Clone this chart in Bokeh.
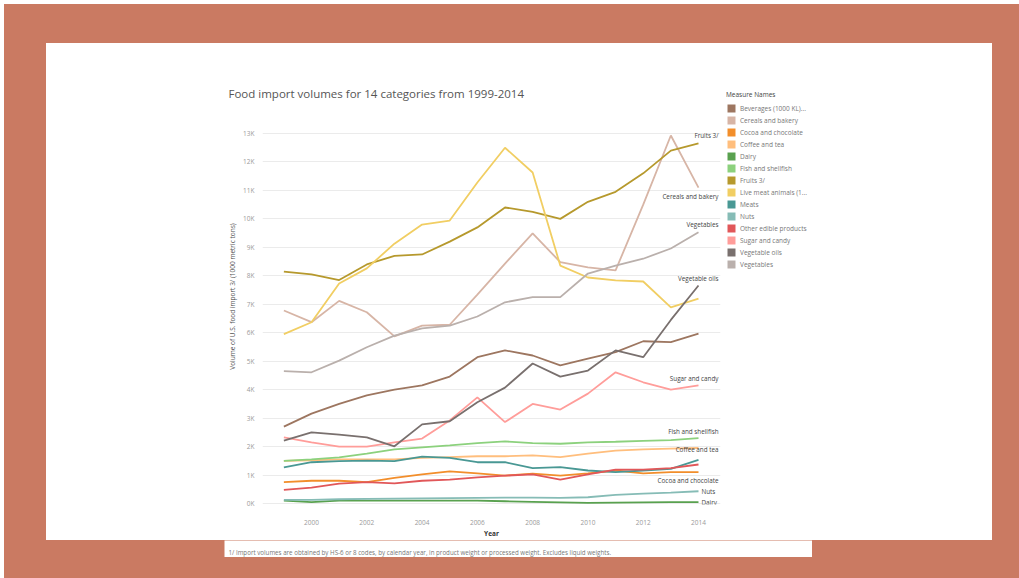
from bokeh.plotting import figure
from bokeh.layouts import column, row
from bokeh.models import (ColumnDataSource, Label, LabelSet, Legend, LegendItem,
                          FixedTicker, Range1d)
from bokeh.core.properties import value
from bokeh.embed import file_html
from bokeh.resources import INLINE

# ---------------- data (1000 metric tons) ----------------
years = list(range(1999, 2015))

beverages  = [2700, 3160, 3500, 3800, 4000, 4150, 4460, 5140, 5380, 5200, 4850, 5090, 5320, 5700, 5670, 5970]
cereals    = [6780, 6370, 7120, 6720, 5870, 6250, 6280, 7340, 8430, 9490, 8480, 8300, 8190, 10500, 12930, 11100]
cocoa      = [750, 800, 800, 750, 900, 1020, 1130, 1060, 980, 1050, 980, 1060, 1160, 1060, 1100, 1100]
coffee     = [1500, 1520, 1550, 1550, 1550, 1600, 1630, 1660, 1660, 1690, 1630, 1750, 1860, 1900, 1930, 1950]
dairy      = [100, 50, 100, 100, 100, 100, 100, 100, 80, 60, 40, 20, 30, 40, 50, 50]
fish       = [1500, 1550, 1620, 1750, 1900, 1970, 2040, 2120, 2180, 2120, 2100, 2150, 2170, 2200, 2230, 2300]
fruits     = [8150, 8050, 7850, 8400, 8700, 8750, 9200, 9700, 10400, 10250, 10000, 10600, 10950, 11600, 12400, 12650]
live_meat  = [5950, 6370, 7730, 8260, 9130, 9800, 9940, 11280, 12500, 11630, 8360, 7940, 7840, 7800, 6890, 7200]
meats      = [1270, 1450, 1490, 1510, 1490, 1650, 1600, 1450, 1450, 1240, 1280, 1160, 1100, 1160, 1220, 1530]
nuts       = [130, 130, 150, 160, 170, 180, 190, 200, 210, 210, 200, 220, 300, 350, 380, 430]
other      = [480, 560, 700, 750, 710, 800, 840, 920, 980, 1020, 840, 1020, 1190, 1190, 1240, 1370]
sugar      = [2320, 2150, 2000, 2000, 2150, 2280, 2920, 3730, 2860, 3500, 3300, 3860, 4610, 4260, 4000, 4150]
veg_oils   = [2210, 2500, 2420, 2320, 2010, 2780, 2890, 3560, 4070, 4920, 4460, 4670, 5380, 5140, 6450, 7660]
vegetables = [4650, 4610, 5020, 5490, 5900, 6150, 6250, 6570, 7070, 7250, 7250, 8080, 8360, 8600, 8960, 9530]

series_names = ["Beverages (1000 KL)", "Cereals and bakery", "Cocoa and chocolate", "Coffee and tea",
                "Dairy", "Fish and shellfish", "Fruits 3/", "Live meat animals (1000 head)", "Meats",
                "Nuts", "Other edible products", "Sugar and candy", "Vegetable oils", "Vegetables"]
legend_labels = ["Beverages (1000 KL)...", "Cereals and bakery", "Cocoa and chocolate", "Coffee and tea",
                 "Dairy", "Fish and shellfish", "Fruits 3/", "Live meat animals (1...", "Meats",
                 "Nuts", "Other edible products", "Sugar and candy", "Vegetable oils", "Vegetables"]
series_values = [beverages, cereals, cocoa, coffee, dairy, fish, fruits, live_meat, meats,
                 nuts, other, sugar, veg_oils, vegetables]

y_ticks = list(range(0, 14000, 1000))
y_tick_labels = ["%dK" % (t // 1000) for t in y_ticks]
x_ticks = [2000, 2002, 2004, 2006, 2008, 2010, 2012, 2014]

title_text = "Food import volumes for 14 categories from 1999-2014"
y_title = "Volume of U.S. food import 3/ (1000 metric tons)"
x_title = "Year"
legend_title = "Measure Names"
footnote = ("1/ Import volumes are obtained by HS-6 or 8 codes, by calendar year, in product weight "
            "or processed weight. Excludes liquid weights.")

# ---------------- style ----------------
colors = ["#9D7660", "#D7B5A6", "#F28E2B", "#FFBE7D", "#59A14F", "#8CD17D", "#B6992D",
          "#F1CE63", "#499894", "#86BCB6", "#E15759", "#FF9D9A", "#79706E", "#BAB0AC"]
BG = "#CA7A62"
FONT = "Open Sans"

# end-of-line labels: series -> (x offset px, y offset px, align)
end_label_style = {
    "Fruits 3/": (20, 8, "right"),
    "Cereals and bakery": (20, -9, "right"),
    "Vegetables": (20, 8, "right"),
    "Vegetable oils": (20, 7, "right"),
    "Sugar and candy": (20, 7, "right"),
    "Fish and shellfish": (20, 7, "right"),
    "Coffee and tea": (20, -1, "right"),
    "Cocoa and chocolate": (20, -8, "right"),
    "Nuts": (3, 0, "left"),
    "Dairy": (3, 0, "left"),
}

# ---------------- main chart (white panel, left part) ----------------
p = figure(width=678, height=497, output_backend="svg", toolbar_location=None,
           x_range=Range1d(1998.227, 2014.796), y_range=Range1d(-35, 14581),
           min_border_left=216, min_border_right=4, min_border_top=45, min_border_bottom=36,
           border_fill_color="white", background_fill_color="white", outline_line_color=None,
           title=title_text)

p.title.align = "left"
p.title.offset = -34
p.title.standoff = -24
p.title.text_font = FONT
p.title.text_font_size = "11.5px"
p.title.text_font_style = "normal"
p.title.text_color = "#555555"

p.xgrid.grid_line_color = None
p.ygrid.grid_line_color = "#ebebeb"
p.ygrid.ticker = FixedTicker(ticks=y_ticks)
p.yaxis.ticker = FixedTicker(ticks=y_ticks)
p.yaxis.major_label_overrides = {t: l for t, l in zip(y_ticks, y_tick_labels)}
p.xaxis.ticker = FixedTicker(ticks=x_ticks)
for ax in (p.xaxis[0], p.yaxis[0]):
    ax.axis_line_color = None
    ax.major_tick_line_color = None
    ax.minor_tick_line_color = None
    ax.major_label_text_font = FONT
    ax.major_label_text_font_size = "6.5px"
    ax.major_label_text_color = "#9a9a9a"
    ax.axis_label_text_font = FONT
    ax.axis_label_text_font_size = "6.5px"
    ax.axis_label_text_font_style = "normal"
p.yaxis.major_label_standoff = 2
p.yaxis.axis_label = y_title
p.yaxis.axis_label_standoff = 3
p.yaxis.axis_label_text_color = "#555555"
p.xaxis.major_label_standoff = 9
p.xaxis.axis_label = x_title
p.xaxis.axis_label_standoff = 1
p.xaxis.axis_label_text_color = "#333333"
p.xaxis.axis_label_text_font_style = "bold"

for name, vals, col in zip(series_names, series_values, colors):
    src = ColumnDataSource(dict(year=years, v=vals))
    p.line("year", "v", source=src, line_color=col, line_width=1.8)

for align in ("right", "left"):
    xs, ys, ts, xo, yo = [], [], [], [], []
    for name, vals in zip(series_names, series_values):
        if name in end_label_style and end_label_style[name][2] == align:
            xs.append(years[-1]); ys.append(vals[-1]); ts.append(name)
            xo.append(end_label_style[name][0]); yo.append(end_label_style[name][1])
    p.add_layout(LabelSet(x="x", y="y", text="t", x_offset="xo", y_offset="yo",
                          source=ColumnDataSource(dict(x=xs, y=ys, t=ts, xo=xo, yo=yo)),
                          text_align=align, text_baseline="middle", text_font=value(FONT),
                          text_font_size=value("6.3px"), text_color="#444444"))

# ---------------- legend panel (full panel height) ----------------
lf = figure(width=112, height=497, output_backend="svg", toolbar_location=None, title=None,
            x_axis_location=None, y_axis_location=None, min_border=0,
            border_fill_color="white", background_fill_color="white", outline_line_color=None,
            x_range=Range1d(0, 1), y_range=Range1d(0, 1))
lf.grid.visible = False
items = []
for lab, col, vals in zip(legend_labels, colors, series_values):
    # swatch renderer: its single box lies outside this panel's 0..1 ranges, only the legend swatch shows
    sw = ColumnDataSource(dict(l=[years[0]], r=[years[1]], b=[vals[0]], t=[vals[1] + 1]))
    rr = lf.quad(left="l", right="r", bottom="b", top="t", source=sw,
                 fill_color=col, line_color=None)
    items.append(LegendItem(label=lab, renderers=[rr]))
legend = Legend(items=items, location="top_left", title=legend_title,
                title_text_font=FONT, title_text_font_size="6.5px", title_text_color="#444444",
                title_text_font_style="normal", title_standoff=4,
                label_text_font=FONT, label_text_font_size="6.5px", label_text_color="#777777",
                glyph_width=10, glyph_height=10, label_height=10, label_standoff=4, spacing=2,
                padding=0, margin=2, border_line_color=None, background_fill_alpha=0)
lf.add_layout(legend)

# ---------------- footnote strip ----------------
f = figure(width=588, height=17, output_backend="svg", toolbar_location=None, title=None,
           x_axis_location=None, y_axis_location=None, min_border=0,
           border_fill_color="white", background_fill_color="white", outline_line_color=None,
           x_range=Range1d(0, 1), y_range=Range1d(0, 1))
f.grid.visible = False
f.margin = (0, 0, 0, 220)
f.add_layout(Label(x=4, y=5, x_units="screen", y_units="screen", text=footnote,
                   text_font=FONT, text_font_size="6.2px", text_color="#777777",
                   text_baseline="middle"))

panel = row(p, lf, width=946, height=497, spacing=0, margin=(39, 0, 0, 42),
            styles={"background-color": "white"})
page = column(panel, f, width=1015, height=574, spacing=0, margin=(4, 0, 0, 4),
              styles={"background-color": BG})

open("out.html", "w").write(file_html(page, INLINE))
